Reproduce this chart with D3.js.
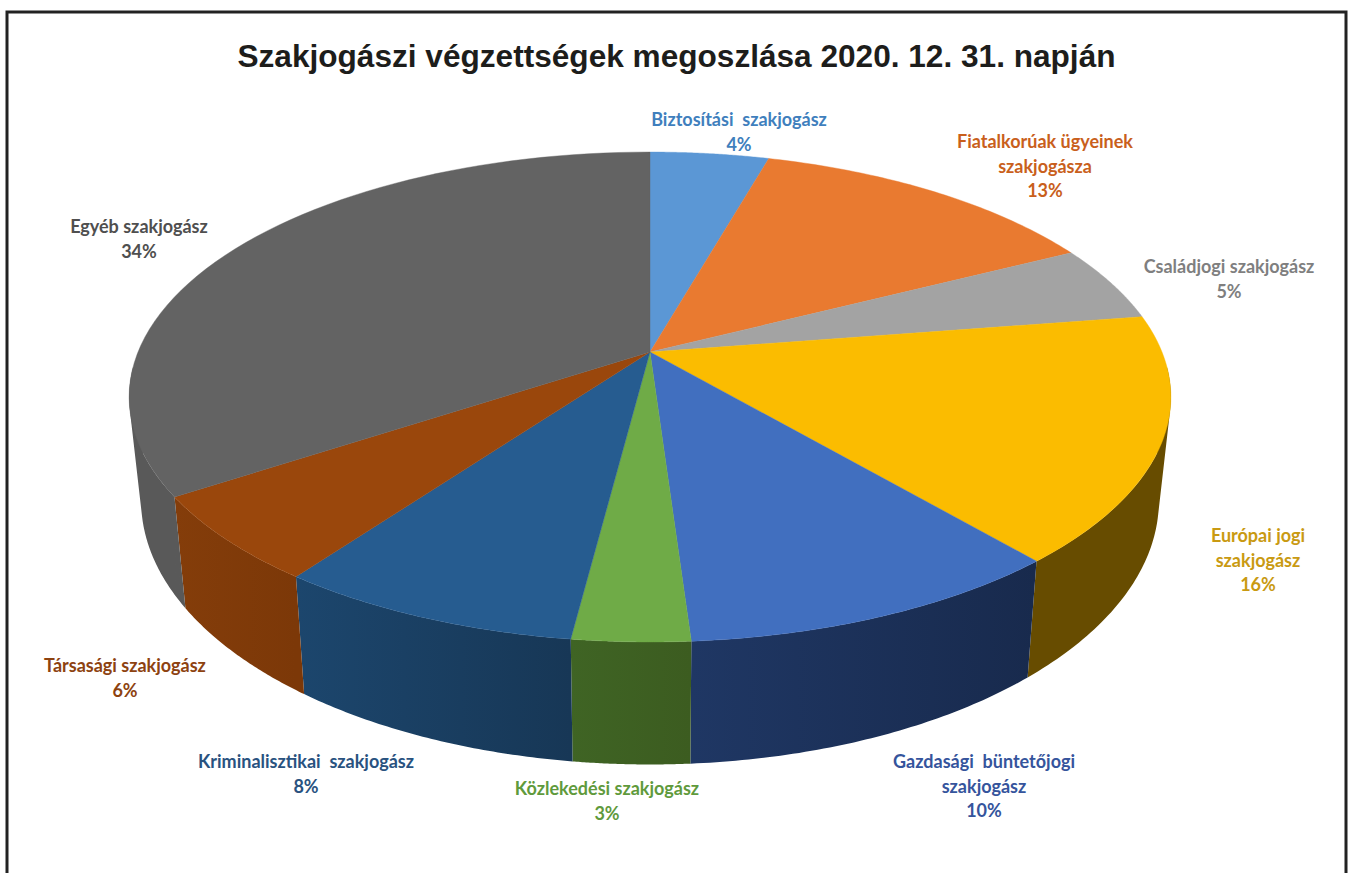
<!DOCTYPE html>
<html><head><meta charset="utf-8">
<script src="https://cdn.jsdelivr.net/npm/d3@7"></script>
<style>html,body{margin:0;padding:0;background:#fff}svg{display:block}</style>
</head><body>
<svg id="c" width="1350" height="873"></svg>
<script>
const titleText = "Szakjogászi végzettségek megoszlása 2020. 12. 31. napján";
const categories = [
  ["Biztosítási  szakjogász"],
  ["Fiatalkorúak ügyeinek","szakjogásza"],
  ["Családjogi szakjogász"],
  ["Európai jogi","szakjogász"],
  ["Gazdasági  büntetőjogi","szakjogász"],
  ["Közlekedési szakjogász"],
  ["Kriminalisztikai  szakjogász"],
  ["Társasági szakjogász"],
  ["Egyéb szakjogász"]
];
const percentLabels = ["4%","13%","5%","16%","10%","3%","8%","6%","34%"];
// shares
const shares = [4.4,13.1,5.05,16.2,10.2,3.07,8.0,5.7,34.28];
const topColors = ["#5b97d5","#e97a30","#a3a3a3","#fbbc00","#416fbf","#6fab47","#265c90","#9a470c","#636363"];
const wallLeft = ["#3a5f85","#8f4c1d","#666666","#674c00","#1f3764","#3f6424","#1c466d","#843d0a","#5d5d5d"];
const wallRight = ["#3a5f85","#8f4c1d","#666666","#674c00","#182a4d","#3c5c20","#173756","#7c3808","#595959"];
const labelColors = ["#3f7fbd","#c95f1c","#7f7f7f","#c99a12","#35549c","#5f9a3c","#29527f","#8d4210","#4f4f4f"];
const labelX = [739,1045,1229,1258,984,607,306,125,139];
const labelY = [120,142,267,536,762,789,762,666,227];

// perspective projection of the disc
const cx=650, cy=352, R=512, K=236.7, P=0.1837, H=100, SHRINK=0.977;
const sc = t => 1/(1+P*Math.cos(t));
const topPt = t => [cx+R*Math.sin(t)*sc(t), cy-K*Math.cos(t)*sc(t)];
const botPt = t => [cx+SHRINK*R*Math.sin(t)*sc(t), cy-K*Math.cos(t)*sc(t)+H*sc(t)];

const svg=d3.select("#c");
const lineGen=d3.line();
const pie=d3.pie().sort(null).value(d=>d);
const arcs=pie(shares);
const rim=(a,b,fn)=>d3.range(0,61).map(i=>fn(a+(b-a)*i/60));

// frame
svg.append("path").attr("d",lineGen([[7,873],[7,12],[1346,12],[1346,873]]))
  .attr("fill","none").attr("stroke","#222").attr("stroke-width",3);

// title
svg.append("text").attr("x",676.5).attr("y",67).attr("text-anchor","middle")
  .attr("font-family","'Liberation Sans',Arial,sans-serif").attr("font-weight",700)
  .attr("font-size",31.6).attr("fill","#1d1d1b").text(titleText);

// wall gradients
const defs=svg.append("defs");
arcs.forEach((d,i)=>{
  const g=defs.append("linearGradient").attr("id","w"+i).attr("gradientUnits","userSpaceOnUse")
    .attr("x1",topPt(d.startAngle)[0]).attr("x2",topPt(d.endAngle)[0]).attr("y1",0).attr("y2",0);
  g.append("stop").attr("offset","0%").attr("stop-color",wallRight[i]);
  g.append("stop").attr("offset","100%").attr("stop-color",wallLeft[i]);
});

// walls: the visible front part of the rim, swept as small convex cells
const FRONT_A=Math.PI*0.52, FRONT_B=Math.PI*1.48;
const wallPath=d=>{
  const a=Math.max(d.startAngle,FRONT_A), b=Math.min(d.endAngle,FRONT_B);
  if(a>=b) return null;
  const ts=d3.range(0,61).map(i=>a+(b-a)*i/60);
  return d3.pairs(ts).map(([u,v])=>lineGen(d3.polygonHull([topPt(u),topPt(v),botPt(v),botPt(u)]))+"Z").join("");
};
svg.append("g").selectAll("path").data(arcs.filter(d=>wallPath(d))).join("path")
  .attr("d",wallPath).attr("fill-rule","nonzero")
  .attr("fill",d=>`url(#w${d.index})`);

// top faces
svg.append("g").selectAll("path").data(arcs).join("path")
  .attr("d",d=>lineGen([[cx,cy],...rim(d.startAngle,d.endAngle,topPt)])+"Z")
  .attr("fill",(d,i)=>topColors[i]).attr("stroke",(d,i)=>topColors[i]).attr("stroke-width",0.4);

// labels
const lab=svg.append("g").attr("font-family","Lato,sans-serif").attr("font-weight",700)
  .attr("font-size",18).attr("text-anchor","middle");
categories.forEach((lines,i)=>{
  const t=lab.append("text").attr("fill",labelColors[i]).style("white-space","pre");
  [...lines,percentLabels[i]].forEach((s,j)=>{
    t.append("tspan").attr("x",labelX[i]).attr("y",labelY[i]+6+j*24.5).text(s);
  });
});
</script>
</body></html>
